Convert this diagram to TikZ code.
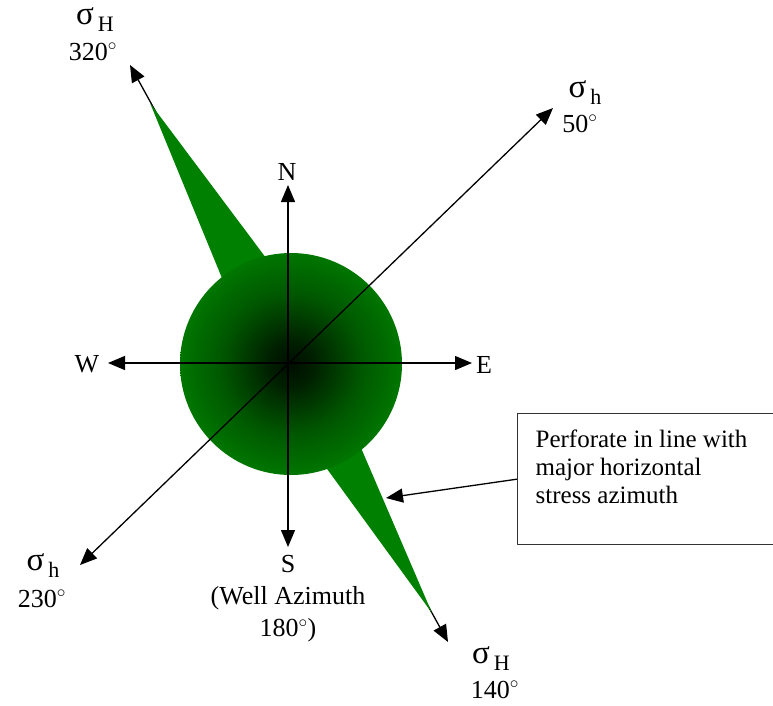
\documentclass[tikz,border=0pt]{standalone}
\usepackage{fontspec}
\setmainfont{Liberation Serif}
\usetikzlibrary{arrows.meta,positioning}
\definecolor{stressgreen}{RGB}{0,128,0}
\definecolor{coregreen}{RGB}{0,14,0}
\pgfdeclareradialshading{wellcore}{\pgfpoint{0bp}{0bp}}{color(0bp)=(coregreen); color(5bp)=(coregreen!85!stressgreen); color(16bp)=(coregreen!35!stressgreen); color(28bp)=(stressgreen); color(50bp)=(stressgreen)}
\newcommand{\stress}[1]{{\fontsize{33}{33}\selectfont σ}\hspace{4pt}\raisebox{-7pt}{\fontsize{22}{22}\selectfont #1}}

\begin{document}
\begin{tikzpicture}[x=1pt,y=-1pt,line join=round,
  axis/.style={line width=1.3pt,{Triangle[length=17pt,width=14pt]}-{Triangle[length=17pt,width=14pt]}},
  callout/.style={line width=1.3pt,-{Triangle[length=17pt,width=14pt]}},
  lbl/.style={font=\fontsize{26}{32}\selectfont,inner sep=0pt,anchor=base},
  sig/.style={inner sep=0pt,anchor=base}]
  \clip (0,0) rectangle (773,705);
  % axis ends
  \coordinate (tipN) at (288,185); \coordinate (tipS) at (288,547);
  \coordinate (tipW) at (108,363); \coordinate (tipE) at (472,363);
  \coordinate (tiphne) at (553,108); \coordinate (tiphsw) at (80,565);
  \coordinate (tipHnw) at (130,65); \coordinate (tipHse) at (448,642);
  \coordinate (onwedge) at (386,498);
  % major stress direction, under the green
  \draw[axis] (tipHnw) -- (tipHse);
  \fill[stressgreen] (150,103) -- (231,300) -- (290,290) -- cycle;
  \fill[stressgreen] (306,440) -- (349,420) -- (432,613) -- cycle;
  \shade[shading=wellcore] (291,364) circle[radius=111pt];
  \draw[axis] (tiphsw) -- (tiphne);
  \draw[axis] (tipN) -- (tipS);
  \draw[axis] (tipW) -- (tipE);
  % compass labels
  \node[lbl] (north) at (287,180) {N};
  \node[lbl] (west) at (87,372) {W};
  \node[lbl] (east) at (484,373) {E};
  \node[lbl,anchor=north,align=center] (south) at (288,555) {S\\(Well Azimuth\\180$^\circ$)};
  % stress labels
  \node[sig] (sigHnw) at (95,24) {\stress{H}};
  \node[lbl] (degHnw) at (93,60) {320$^\circ$};
  \node[sig] (sighne) at (585,97) {\stress{h}};
  \node[lbl] (deghne) at (580,132) {50$^\circ$};
  \node[sig] (sighsw) at (43,570) {\stress{h}};
  \node[lbl] (deghsw) at (42,607) {230$^\circ$};
  \node[sig] (sigHse) at (491,663) {\stress{H}};
  \node[lbl] (degHse) at (495,698) {140$^\circ$};
  % note
  \node[draw=black!80,line width=1.3pt,anchor=north west,inner xsep=18pt,inner ysep=16pt,
    font=\fontsize{25}{28}\selectfont] (note) at (517,413)
    {\parbox[t][99pt][t]{232pt}{\raggedright Perforate in line with\\major horizontal\\stress azimuth}};
  \draw[callout] (note.west) -- (onwedge);
\end{tikzpicture}
\end{document}
